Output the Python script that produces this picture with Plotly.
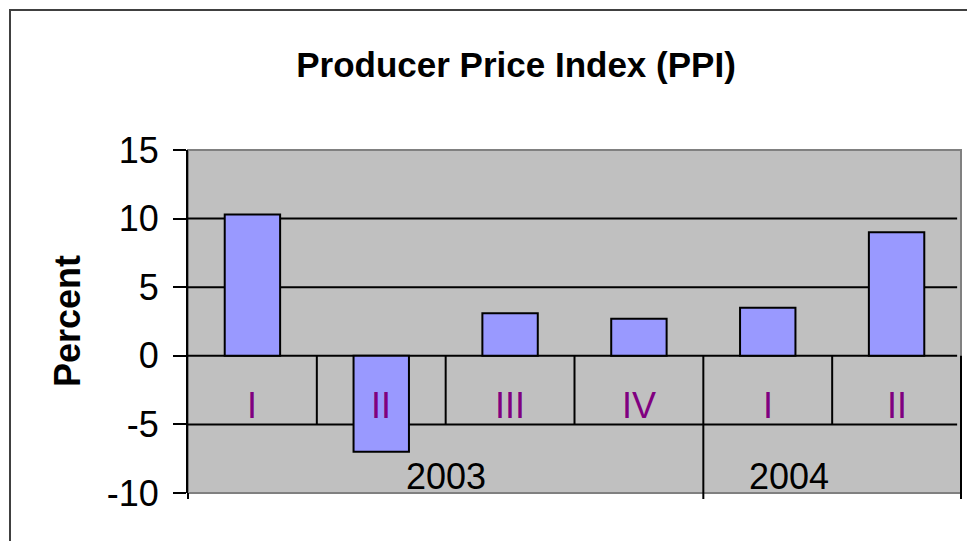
import plotly.graph_objects as go

# ---- data ----
quarters = ["I", "II", "III", "IV", "I", "II"]
years = ["2003", "2003", "2003", "2003", "2004", "2004"]
ppi_values = [10.3, -7.0, 3.1, 2.7, 3.5, 9.0]
y_ticks = [-10, -5, 0, 5, 10, 15]
y_tick_labels = ["-10", "-5", "0", "5", "10", "15"]
grid_values = [-5, 0, 5, 10]

FONT = "Liberation Sans, Arial, sans-serif"
n = len(quarters)
xs = list(range(n))
Y0, Y1 = -10, 15

fig = go.Figure()
fig.add_trace(go.Bar(
    x=xs, y=ppi_values, width=0.43,
    marker=dict(color="#9999FF", line=dict(color="black", width=2)),
    hoverinfo="y", showlegend=False,
))

shapes = []
# plot area border
shapes.append(dict(type="rect", xref="paper", yref="paper", x0=0, x1=1, y0=0, y1=1,
                   line=dict(color="#808080", width=2), layer="below"))
# horizontal gridlines
for g in grid_values:
    shapes.append(dict(type="line", xref="paper", yref="y", x0=0, x1=0.995, y0=g, y1=g,
                       line=dict(color="black", width=2), layer="below"))

def to_paper_x(v):
    return (v + 0.5) / n

zero_p = (0 - Y0) / (Y1 - Y0)
below_p = -6 / 343.0

# separators between categories
for k in range(n - 1):
    b = k + 0.5
    if years[k] == years[k + 1]:
        shapes.append(dict(type="line", xref="x", yref="y", x0=b, x1=b, y0=0, y1=-5,
                           line=dict(color="black", width=2), layer="below"))
    else:
        shapes.append(dict(type="line", xref="paper", yref="paper", x0=to_paper_x(b), x1=to_paper_x(b),
                           y0=zero_p, y1=below_p, line=dict(color="black", width=2), layer="above"))
# right edge of category table
shapes.append(dict(type="line", xref="paper", yref="paper", x0=1, x1=1, y0=zero_p, y1=below_p,
                   line=dict(color="black", width=2), layer="above"))
# left axis extension
shapes.append(dict(type="line", xref="paper", yref="paper", x0=0, x1=0, y0=0, y1=below_p,
                   line=dict(color="black", width=2), layer="above"))
# outer chart frame
fx = (10 - 188) / 773.0
fy_top = (493 - 10) / 343.0
fy_bot = (493 - 560) / 343.0
fx_right = (990 - 188) / 773.0
shapes.append(dict(type="path", xref="paper", yref="paper",
                   path=f"M {fx},{fy_bot} L {fx},{fy_top} L {fx_right},{fy_top}",
                   line=dict(color="#404040", width=2)))

annotations = []
for i, q in enumerate(quarters):
    annotations.append(dict(x=xs[i], y=-3.6, xref="x", yref="y", text=q, showarrow=False,
                            font=dict(family=FONT, size=36, color="#800080"),
                            xanchor="center", yanchor="middle"))
# year labels
seen = []
for yv in years:
    if yv not in seen:
        seen.append(yv)
year_shift = {"2003": 0, "2004": -43}
for yv in seen:
    idx = [i for i, v in enumerate(years) if v == yv]
    annotations.append(dict(x=sum(idx) / len(idx), y=-8.8, xref="x", yref="y", text=yv,
                            showarrow=False, xshift=year_shift.get(yv, 0),
                            font=dict(family=FONT, size=36, color="black"),
                            xanchor="center", yanchor="middle"))
# y axis title
annotations.append(dict(x=(67 - 188) / 773.0, y=(493 - 321) / 343.0, xref="paper", yref="paper",
                        text="<b>Percent</b>", textangle=-90, showarrow=False,
                        font=dict(family=FONT, size=36, color="black"),
                        xanchor="center", yanchor="middle"))

fig.update_layout(
    width=967, height=541, autosize=False,
    margin=dict(l=188, r=6, t=150, b=48, autoexpand=False),
    paper_bgcolor="white", plot_bgcolor="#C0C0C0",
    title=dict(text="<b>Producer Price Index (PPI)</b>", x=516 / 967, xref="container", xanchor="center",
               y=1 - 65 / 541, yref="container", yanchor="middle",
               font=dict(family=FONT, size=35, color="black")),
    xaxis=dict(range=[-0.5, n - 0.5], showticklabels=False, showgrid=False, zeroline=False,
               showline=False, ticks="", fixedrange=True, automargin=False),
    yaxis=dict(range=[Y0, Y1], tickvals=y_ticks, ticktext=y_tick_labels, ticks="outside",
               ticklen=13, tickwidth=2, tickcolor="black", showline=True, linecolor="black",
               linewidth=2, showgrid=False, zeroline=False, ticklabelstandoff=7, automargin=False,
               tickfont=dict(family=FONT, size=36, color="black"), fixedrange=True),
    shapes=shapes, annotations=annotations,
    bargap=0.57,
)

fig.write_html("out.html", config={"displayModeBar": False},
               post_script="document.body.style.margin='0';document.body.style.overflow='hidden';")
